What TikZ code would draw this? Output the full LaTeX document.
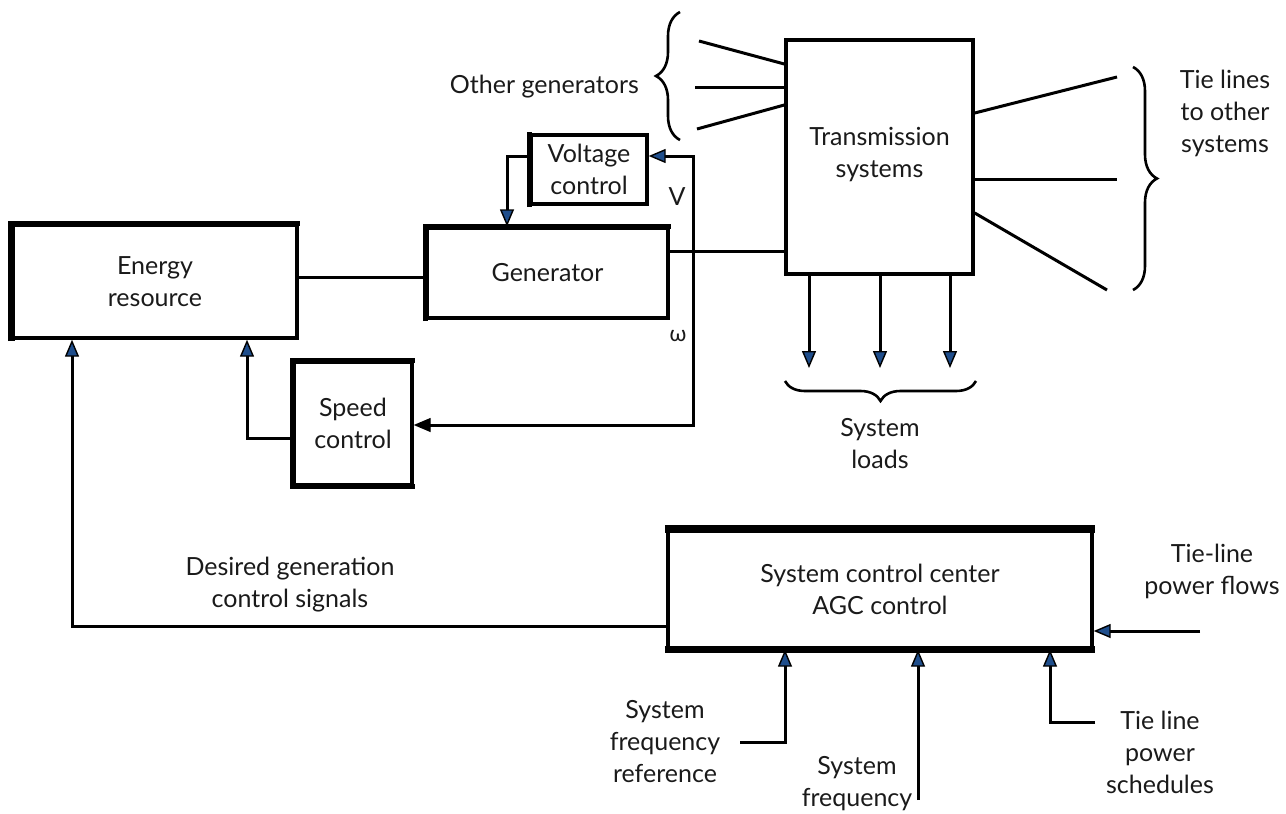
\documentclass[tikz,border=0pt]{standalone}
\usepackage{fontspec}
\setmainfont{Lato}
\usetikzlibrary{arrows.meta,decorations.pathreplacing}
\definecolor{tipblue}{HTML}{1F4E8C}
\definecolor{inkgray}{HTML}{1A1A1A}
\tikzset{
  wire/.style={line width=3pt},
  barr/.style={wire, -{Triangle[length=17pt,width=14pt,fill=tipblue,line width=1.4pt]}},
  karr/.style={wire, -{Triangle[length=17pt,width=14pt,line width=1.4pt]}},
  txt/.style={align=center, inner sep=0pt, text=inkgray, font=\fontsize{25}{32}\selectfont},
  box/.style={draw, line width=3.4pt, txt},
  heavy/.style={line width=#1, line join=miter},
  bracket/.style={line width=2.6pt, decorate, decoration={brace, amplitude=#1}},
}
\begin{document}
\begin{tikzpicture}[x=1pt, y=-1pt]
\useasboundingbox (0,0) rectangle (1286,814);

% blocks
\node[box, minimum width=284pt, minimum height=113pt] (er)  at (155,281.5) {Energy\\resource};
\node[box, minimum width=241pt, minimum height=90pt]  (gen) at (547.5,273) {Generator};
\node[box, minimum width=116pt, minimum height=69pt]  (vc)  at (589,169.5) {Voltage\\control};
\node[box, minimum width=187pt, minimum height=234pt] (ts)  at (879.5,157) {};
\node[txt] at (879.5,155) {Transmission\\systems};
\node[box, minimum width=118pt, minimum height=123pt] (sc)  at (353,423.5) {Speed\\control};
\node[box, minimum width=424pt, minimum height=117pt] (scc) at (880,589.5) {System control center\\AGC control};

% heavier edges of the blocks
\draw[heavy=6.5pt] ([yshift=-1.5pt]er.south west) -- ([yshift=2pt]er.north west);
\draw[heavy=5pt] (er.north west) -- ([xshift=1.5pt]er.north east);
\draw[heavy=5pt] ([yshift=-1.5pt]gen.south west) -- (gen.north west) -- ([xshift=1.5pt]gen.north east);
\draw[heavy=4.5pt] ([yshift=-1.5pt]vc.south west) -- ([yshift=1.5pt]vc.north west);
\draw[heavy=5.5pt] ([xshift=-2pt]sc.north west) -- ([xshift=1.5pt]sc.north east);
\draw[heavy=4.5pt] (sc.north west) -- (sc.south west) -- ([xshift=1.5pt]sc.south east);
\draw[heavy=8pt] ([xshift=-1.5pt]scc.north west) -- ([xshift=1.5pt]scc.north east);
\draw[heavy=7pt] ([xshift=-1.5pt]scc.south west) -- ([xshift=1.5pt]scc.south east);

% power path
\draw[wire] (er.east |- 0,277) -- (gen.west |- 0,277);
\draw[wire] (gen.east |- 0,251) -- (ts.west |- 0,251);
\coordinate (tap) at (693,251);

% voltage loop
\draw[barr] (tap) |- (vc.east |- 0,156);
\draw[barr] (vc.west |- 0,156) -| (gen.north -| 507,0);
\node[txt] at (677,197) {V};

% speed loop
\draw[karr] (tap) |- (sc.east |- 0,425);
\node[txt, font=\fontsize{22}{28}\selectfont] at (678,336) {ω};
\draw[barr] (sc.west |- 0,438) -| (er.south -| 247,0);

% other generators
\coordinate (og1) at (699,41);
\coordinate (og2) at (695,87);
\coordinate (og3) at (697,129);
\draw[wire] (og1) -- (ts.west |- 0,64);
\draw[wire] (og2) -- (ts.west |- 0,87);
\draw[wire] (og3) -- (ts.west |- 0,105);
\draw[bracket=24pt] (680,140) -- (680,12);
\node[txt, anchor=east] at (639,87) {Other generators};

% tie lines
\coordinate (tl1) at (1117,77);
\coordinate (tl2) at (1117,179);
\coordinate (tl3) at (1107,290);
\draw[wire] (ts.east |- 0,113) -- (tl1);
\draw[wire] (ts.east |- 0,179) -- (tl2);
\draw[wire] (ts.east |- 0,213) -- (tl3);
\draw[bracket=24pt] (1133,67) -- (1133,290);
\node[txt] at (1225,113) {Tie lines\\to other\\systems};

% system loads
\coordinate (ld1) at (809,368);
\coordinate (ld2) at (880,368);
\coordinate (ld3) at (950,368);
\draw[barr] (ts.south -| ld1) -- (ld1);
\draw[barr] (ts.south -| ld2) -- (ld2);
\draw[barr] (ts.south -| ld3) -- (ld3);
\draw[bracket=20pt] (976,381) -- (785,381);
\node[txt] at (880,444) {System\\loads};

% generation control signals
\draw[barr] (scc.west |- 0,626) -| (er.south -| 72,0);
\node[txt] at (290,585) {Desired generation\\control signals};

% inputs of the control center
\coordinate (pf) at (1200,631);
\draw[barr] (pf) -- (scc.east |- pf);
\node[txt] at (1212,571) {Tie-line\\power flows};

\coordinate (fr) at (740,742);
\draw[barr] (fr) -| (scc.south -| 785,0);
\node[txt] at (665,742) {System\\frequency\\reference};

\coordinate (sf) at (918,800);
\draw[barr] (sf) -- (scc.south -| sf);
\node[txt] at (857,784) {System\\frequency};

\coordinate (ps) at (1095,722);
\draw[barr] (ps) -| (scc.south -| 1050,0);
\node[txt] at (1160,752) {Tie line\\power\\schedules};
\end{tikzpicture}
\end{document}
